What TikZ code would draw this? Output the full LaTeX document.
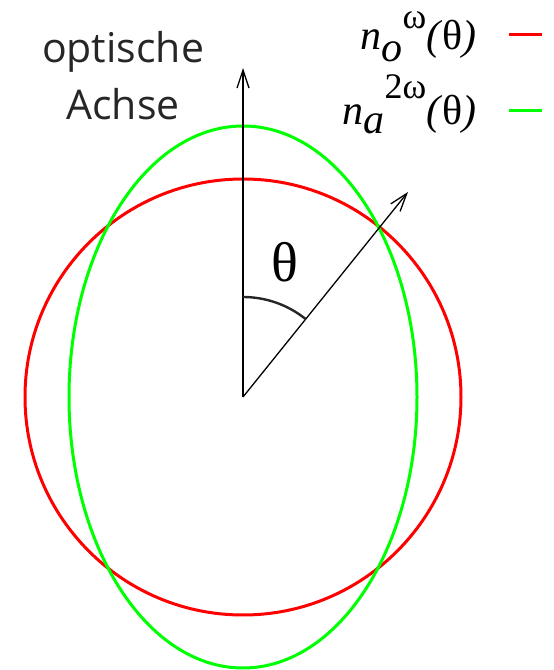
\documentclass[tikz,border=0pt]{standalone}
\usepackage{fontspec}
\usepackage{tikz}
\usetikzlibrary{arrows.meta,positioning}
\setmainfont{Liberation Serif}
\newfontfamily\axisfont{Open Sans}

\begin{document}
\begin{tikzpicture}[
			x=1pt, y=1pt,
			thick,
			curve/.style={line width=3pt},
			axisline/.style={line width=1.3pt, -{Straight Barb[length=18pt, width=12pt]}},
			anglearc/.style={line width=2.4pt, black!85},
			legendtext/.style={anchor=base east, inner sep=0pt, font=\fontsize{42}{42}\selectfont},
			axislabel/.style={align=center, inner sep=0pt, text=black!85, font=\axisfont\fontsize{41}{57}\selectfont}
		]
		\useasboundingbox (0,0) rectangle (554,670);

		\coordinate (O) at (243,273);
		\coordinate (AxisTip) at (243,602);
		\coordinate (WaveTip) at (408,478);

		\draw[curve, red] (O) circle (218);
		\draw[curve, green] (O) ellipse (174 and 271);

		\draw[axisline] (O) -- (AxisTip);
		\draw[axisline] (O) -- (WaveTip);
		\draw[anglearc] ([shift={(90:100)}]O) arc (90:51.2:100);

		\node[font=\fontsize{56}{56}\selectfont, inner sep=0pt] (Theta) at (285,408) {θ};
		\node[axislabel] (OptAxis) at (123,594) {optische\\Achse};

		\node[legendtext] (LegOrd) at (477,620) {\textit{n}\raisebox{-0.28em}{\textit{o}}\raisebox{0.5em}{\fontsize{36}{36}\selectfont ω}\textit{(}θ\textit{)}};
		\node[legendtext, below=75pt of LegOrd.base east, anchor=base east] (LegExt) {\textit{n}\raisebox{-0.2em}{\textit{a}}\raisebox{0.64em}{\fontsize{36}{36}\selectfont 2ω}\textit{(}θ\textit{)}};

		\coordinate[right=32pt of LegOrd.base east, yshift=15pt] (OrdA);
		\coordinate[right=32pt of LegExt.base east, yshift=14pt] (ExtA);
		\draw[curve, red] (OrdA) -- ++(33,0);
		\draw[curve, green] (ExtA) -- ++(33,0);

	\end{tikzpicture}
\end{document}
